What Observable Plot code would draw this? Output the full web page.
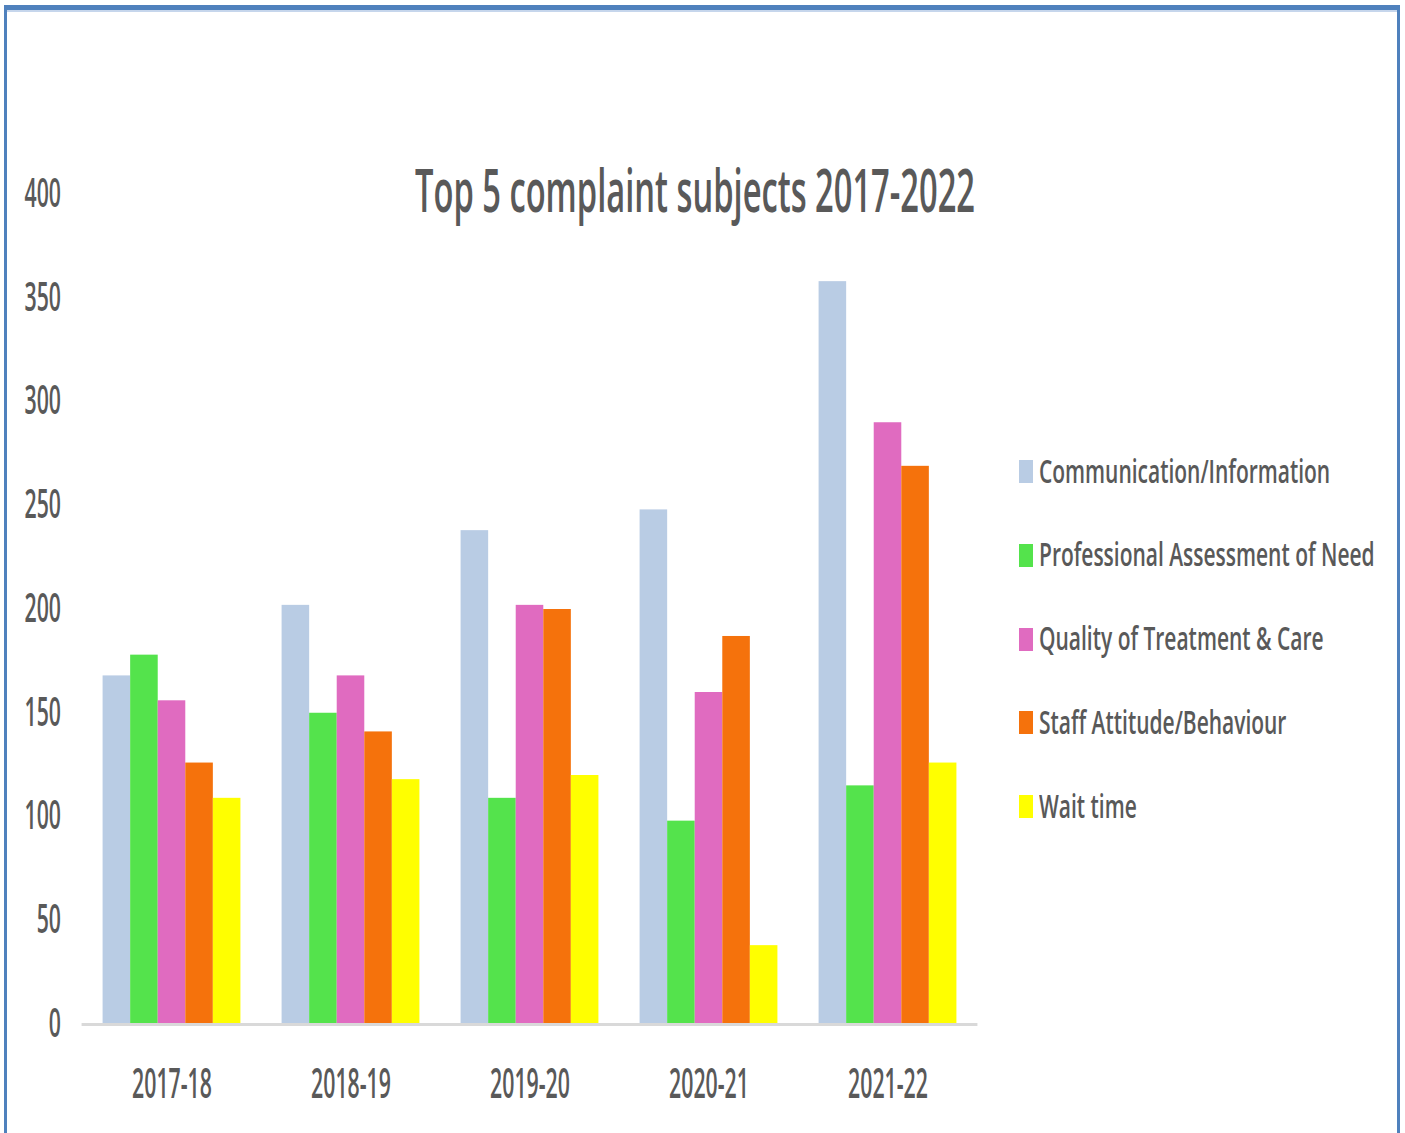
<!DOCTYPE html>
<html><head><meta charset="utf-8">
<script src="https://cdn.jsdelivr.net/npm/d3@7"></script>
<script src="https://cdn.jsdelivr.net/npm/@observablehq/plot@0.6"></script>
<style>
html,body{margin:0;padding:0;background:#fff;overflow:hidden}
#wrap{position:relative;width:1405px;height:1133px;overflow:hidden;font-family:"Open Sans",sans-serif;color:#595959;background:#fff}
#frame{position:absolute;left:4px;top:5px;width:1390px;height:1200px;border-top:5px solid #4f81bd;border-left:3px solid #4f81bd;border-right:3px solid #4f81bd;box-shadow:inset 0 2px 0 #c6d6ec;pointer-events:none}
#chart{position:absolute;left:0;top:0}
.t{position:absolute;white-space:nowrap;transform-origin:0 0;line-height:1;font-weight:600}
.sw{position:absolute;width:14px;height:23px}
</style></head><body>
<div id="wrap"><div id="chart"></div><div id="title" class="t"></div><div id="legend"></div><div id="frame"></div></div>
<script>
const title = "Top 5 complaint subjects 2017-2022";
const years = ["2017-18", "2018-19", "2019-20", "2020-21", "2021-22"];
const subjects = ["Communication/Information", "Professional Assessment of Need", "Quality of Treatment & Care", "Staff Attitude/Behaviour", "Wait time"];
const colors = ["#b9cce4", "#54e34c", "#e06bc0", "#f5720c", "#ffff00"];
const communication = [168, 202, 238, 248, 358];
const professional = [178, 150, 109, 98, 115];
const quality = [156, 168, 202, 160, 290];
const staff = [126, 141, 200, 187, 269];
const wait = [109, 118, 120, 38, 126];
const yTicks = [0, 50, 100, 150, 200, 250, 300, 350, 400];

const seriesValues = [communication, professional, quality, staff, wait];
const data = years.flatMap((yr, i) => subjects.map((s, j) => ({year: yr, subject: s, count: seriesValues[j][i]})));

const chart = Plot.plot({
  width: 1405, height: 1133,
  marginLeft: 82, marginRight: 428, marginTop: 194, marginBottom: 109,
  style: {fontFamily: '"Open Sans", sans-serif', color: "#595959", background: "transparent", overflow: "visible"},
  fx: {domain: years, paddingInner: 0.23, paddingOuter: 0.115, round: false, label: null},
  x: {domain: subjects, padding: 0, round: false, axis: null},
  y: {domain: [0, 400], label: null},
  color: {domain: subjects, range: colors},
  marks: [
    Plot.barY(data, {fx: "year", x: "subject", y: "count", fill: "subject"}),
    Plot.ruleY([0], {stroke: "#d9d9d9", strokeWidth: 3, insetLeft: -21, insetRight: -21}),
    Plot.axisY(yTicks, {tickSize: 0, tickPadding: 22, fontSize: 39, fontWeight: 600, label: null, fill: "#595959"}),
    Plot.axisFx({anchor: "bottom", tickSize: 0, tickPadding: 44, fontSize: 42, fontWeight: 600, label: null, fill: "#595959"})
  ]
});
document.getElementById("chart").appendChild(chart);

// title
const tEl = document.getElementById("title");
tEl.textContent = title;
tEl.style.fontSize = "60px";
tEl.style.left = "415px";
tEl.style.top = (212 - 0.888 * 60) + "px";
const sx = 560 / tEl.offsetWidth;
tEl.style.transform = `scaleX(${sx})`;

// legend
const leg = document.getElementById("legend");
let legSx = sx;
subjects.forEach((s, i) => {
  const base = 483 + i * 83.75;
  const sw = document.createElement("div");
  sw.className = "sw";
  sw.style.left = "1019px";
  sw.style.top = (base - 23) + "px";
  sw.style.background = colors[i];
  leg.appendChild(sw);
  const lab = document.createElement("div");
  lab.className = "t";
  lab.textContent = s;
  lab.style.fontSize = "33px";
  lab.style.left = "1039px";
  lab.style.top = (base - 0.888 * 33) + "px";
  leg.appendChild(lab);
  if (i === 0) legSx = 291 / lab.offsetWidth;
  lab.style.transform = `scaleX(${legSx})`;
});

// condense svg axis text horizontally like the reference
const yLabels = new Set(yTicks.map(String));
const yearLabels = new Set(years);
chart.querySelectorAll("text").forEach(t => {
  const L = t.getComputedTextLength();
  if (L > 0) {
    const k = yearLabels.has(t.textContent.trim()) ? sx * 0.93 : sx;
    t.setAttribute("textLength", L * k);
    t.setAttribute("lengthAdjust", "spacingAndGlyphs");
  }
});
// right-align the y tick labels at the reference position
const svgLeft = chart.getBoundingClientRect().left;
chart.querySelectorAll("text").forEach(t => {
  if (!yLabels.has(t.textContent.trim())) return;
  const r = t.getBoundingClientRect();
  if (r.left - svgLeft > 150) return;
  const shift = 61 - (r.right - svgLeft);
  const tr = t.getAttribute("transform") || "";
  t.setAttribute("transform", (tr + ` translate(${shift},0)`).trim());
});
</script>
</body></html>
